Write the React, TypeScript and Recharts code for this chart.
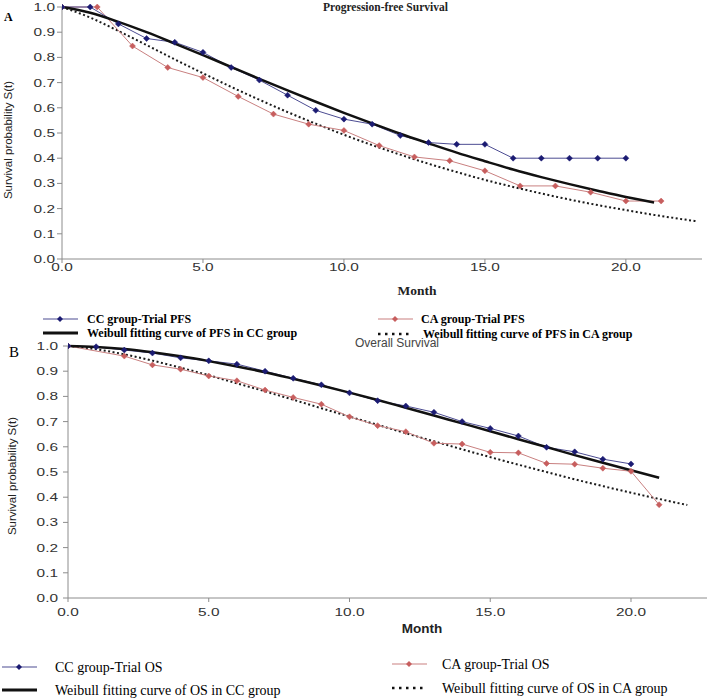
import React from "react"
import { LineChart, Line, XAxis, YAxis } from "recharts"

// ---- axes ----
const monthTicks = [0, 5, 10, 15, 20]
const survivalTicks = [0, 0.1, 0.2, 0.3, 0.4, 0.5, 0.6, 0.7, 0.8, 0.9, 1.0]

// ---- A: progression-free survival ----
const pfsCcMonths = [0, 1, 2, 3, 4, 5, 6, 7, 8, 9, 10, 11, 12, 13, 14, 15, 16, 17, 18, 19, 20]
const pfsCcTrial = [1.0, 1.0, 0.933, 0.875, 0.86, 0.82, 0.76, 0.71, 0.65, 0.59, 0.555, 0.535, 0.49, 0.462, 0.455, 0.455, 0.4, 0.4, 0.4, 0.4, 0.4]

const pfsCaMonths = [0, 1.25, 2.5, 3.75, 5, 6.25, 7.5, 8.75, 10, 11.25, 12.5, 13.75, 15, 16.25, 17.5, 18.75, 20, 21.25]
const pfsCaTrial = [1.0, 1.0, 0.845, 0.76, 0.72, 0.645, 0.575, 0.535, 0.51, 0.45, 0.405, 0.39, 0.35, 0.29, 0.29, 0.265, 0.23, 0.23]

const pfsCcFitMonths = [0, 1, 2, 3, 4, 5, 6, 7, 8, 9, 10, 11, 12, 13, 14, 15, 16, 17, 18, 19, 20, 21]
const pfsCcFit = [1.0, 0.977, 0.941, 0.9, 0.855, 0.809, 0.762, 0.715, 0.669, 0.624, 0.58, 0.538, 0.497, 0.459, 0.422, 0.388, 0.355, 0.325, 0.297, 0.271, 0.246, 0.224]

const pfsCaFitMonths = [0, 1, 2, 3, 4, 5, 6, 7, 8, 9, 10, 11, 12, 13, 14, 15, 16, 17, 18, 19, 20, 21, 22, 22.5]
const pfsCaFit = [1.0, 0.958, 0.905, 0.849, 0.792, 0.737, 0.683, 0.632, 0.583, 0.537, 0.493, 0.452, 0.414, 0.378, 0.345, 0.314, 0.286, 0.26, 0.236, 0.214, 0.194, 0.175, 0.158, 0.15]

// ---- B: overall survival ----
const osCcMonths = [0, 1, 2, 3, 4, 5, 6, 7, 8, 9, 10, 11, 12, 13, 14, 15, 16, 17, 18, 19, 20]
const osCcTrial = [1.0, 0.997, 0.984, 0.972, 0.953, 0.941, 0.928, 0.9, 0.872, 0.846, 0.814, 0.783, 0.762, 0.737, 0.7, 0.673, 0.643, 0.598, 0.58, 0.551, 0.532]

const osCaMonths = [0, 2, 3, 4, 5, 6, 7, 8, 9, 10, 11, 12, 13, 14, 15, 16, 17, 18, 19, 20, 21]
const osCaTrial = [1.0, 0.96, 0.925, 0.908, 0.881, 0.862, 0.825, 0.796, 0.769, 0.719, 0.684, 0.66, 0.614, 0.611, 0.578, 0.576, 0.534, 0.531, 0.515, 0.503, 0.37]

const osCcFitMonths = [0, 1, 2, 3, 4, 5, 6, 7, 8, 9, 10, 11, 12, 13, 14, 15, 16, 17, 18, 19, 20, 21]
const osCcFit = [1.0, 0.996, 0.988, 0.975, 0.959, 0.94, 0.919, 0.896, 0.87, 0.843, 0.815, 0.786, 0.755, 0.724, 0.693, 0.662, 0.63, 0.599, 0.567, 0.537, 0.507, 0.477]

const osCaFitMonths = [0, 1, 2, 3, 4, 5, 6, 7, 8, 9, 10, 11, 12, 13, 14, 15, 16, 17, 18, 19, 20, 21, 22]
const osCaFit = [1.0, 0.987, 0.967, 0.942, 0.914, 0.884, 0.852, 0.82, 0.787, 0.753, 0.72, 0.687, 0.654, 0.622, 0.59, 0.559, 0.529, 0.5, 0.471, 0.444, 0.418, 0.393, 0.369]

const NAVY = "#1b1b72"
const NAVY_LINE = "#4c4c92"
const ROSE = "#c75e5e"
const ROSE_LINE = "#c98080"
const AXIS = "#8c8c8c"
const SANS = "'Liberation Sans', Arial, sans-serif"
const SERIF = "'Liberation Serif', 'Times New Roman', serif"
const STRETCH = 1.4

const toPoints = (months: number[], values: number[]) =>
  months.map((m, i) => ({ month: m, s: values[i] }))

const diamond = (color: string) => (props: any) => {
  const { cx, cy, index } = props
  if (cx == null || cy == null) return <g key={`d-${index}`} />
  return (
    <path
      key={`d-${index}`}
      d={`M${cx},${cy - 3} L${cx + 3},${cy} L${cx},${cy + 3} L${cx - 3},${cy} Z`}
      fill={color}
      stroke={color}
      strokeWidth={0.5}
    />
  )
}

const YTick = (props: any) => {
  const { x, y, payload } = props
  return (
    <text
      transform={`translate(${x},${y}) scale(${STRETCH},1)`}
      textAnchor="end"
      dy="0.355em"
      fontSize={11}
      fill="#333"
      fontFamily={SANS}
    >
      {Number(payload.value).toFixed(1)}
    </text>
  )
}

const XTick = (props: any) => {
  const { x, y, payload } = props
  return (
    <text
      transform={`translate(${x},${y}) scale(${STRETCH},1)`}
      textAnchor="middle"
      dy="0.71em"
      fontSize={11}
      fill="#333"
      fontFamily={SANS}
    >
      {Number(payload.value).toFixed(1)}
    </text>
  )
}

interface PanelProps {
  top: number
  yAxisWidth: number
  right: number
  tickSize: number
  xTickMargin: number
  yTickMargin: number
  ccTrial: { month: number; s: number }[]
  caTrial: { month: number; s: number }[]
  ccFit: { month: number; s: number }[]
  caFit: { month: number; s: number }[]
  marginTop: number
  marginBottom: number
}

function SurvivalPanel(p: PanelProps) {
  return (
    <div style={{ position: "absolute", left: 0, top: p.top }}>
      <LineChart
        width={708}
        height={300}
        margin={{ top: p.marginTop, right: p.right, left: 0, bottom: p.marginBottom }}
      >
        <XAxis
          dataKey="month"
          type="number"
          domain={[0, 22.7]}
          ticks={monthTicks}
          interval={0}
          height={30}
          tickSize={p.tickSize}
          tickMargin={p.xTickMargin}
          axisLine={{ stroke: AXIS }}
          tickLine={{ stroke: AXIS }}
          tick={(t: any) => <XTick {...t} />}
          allowDataOverflow
        />
        <YAxis
          type="number"
          domain={[0, 1]}
          ticks={survivalTicks}
          interval={0}
          width={p.yAxisWidth}
          tickSize={p.tickSize + 1}
          tickMargin={p.yTickMargin}
          axisLine={{ stroke: AXIS }}
          tickLine={{ stroke: AXIS }}
          tick={(t: any) => <YTick {...t} />}
        />
        <Line
          data={p.caFit}
          dataKey="s"
          type="monotone"
          stroke="#1a1a1a"
          strokeWidth={2}
          strokeDasharray="2 2.5"
          dot={false}
          isAnimationActive={false}
        />
        <Line
          data={p.caTrial}
          dataKey="s"
          type="linear"
          stroke={ROSE_LINE}
          strokeWidth={1}
          dot={diamond(ROSE)}
          isAnimationActive={false}
        />
        <Line
          data={p.ccTrial}
          dataKey="s"
          type="linear"
          stroke={NAVY_LINE}
          strokeWidth={1}
          dot={diamond(NAVY)}
          isAnimationActive={false}
        />
        <Line
          data={p.ccFit}
          dataKey="s"
          type="monotone"
          stroke="#111"
          strokeWidth={2.5}
          dot={false}
          isAnimationActive={false}
        />
      </LineChart>
    </div>
  )
}

function LegendMark({ kind, x, y }: { kind: string; x: number; y: number }) {
  if (kind === "cc")
    return (
      <g>
        <line x1={x} x2={x + 35} y1={y} y2={y} stroke={NAVY_LINE} strokeWidth={1.2} />
        <path d={`M${x + 17},${y - 3} L${x + 20},${y} L${x + 17},${y + 3} L${x + 14},${y} Z`} fill={NAVY} />
      </g>
    )
  if (kind === "ca")
    return (
      <g>
        <line x1={x} x2={x + 35} y1={y} y2={y} stroke={ROSE_LINE} strokeWidth={1.2} />
        <path d={`M${x + 17},${y - 3} L${x + 20},${y} L${x + 17},${y + 3} L${x + 14},${y} Z`} fill={ROSE} />
      </g>
    )
  if (kind === "solid")
    return <line x1={x} x2={x + 35} y1={y} y2={y} stroke="#111" strokeWidth={3} />
  return <line x1={x} x2={x + 33} y1={y} y2={y} stroke="#111" strokeWidth={2.5} strokeDasharray="2.5 4.5" />
}

function Overlay() {
  return (
    <svg
      width={708}
      height={698}
      style={{ position: "absolute", left: 0, top: 0, pointerEvents: "none" }}
    >
      {/* panel A */}
      <text x={4} y={21} fontFamily={SERIF} fontWeight="bold" fontSize={12}>A</text>
      <text x={323} y={11} fontFamily={SERIF} fontWeight="bold" fontSize={11.5} fill="#222">
        Progression-free Survival
      </text>
      <text
        x={12}
        y={140}
        transform="rotate(-90 12 140)"
        textAnchor="middle"
        fontFamily={SANS}
        fontSize={11.5}
        fill="#222"
      >
        Survival probability S(t)
      </text>
      <text x={417} y={295} textAnchor="middle" fontFamily={SERIF} fontWeight="bold" fontSize={13.5} fill="#222">
        Month
      </text>

      <LegendMark kind="cc" x={43} y={319} />
      <text x={87} y={323} fontFamily={SERIF} fontWeight="bold" fontSize={12}>CC group-Trial PFS</text>
      <LegendMark kind="solid" x={43} y={333} />
      <text x={87} y={337} fontFamily={SERIF} fontWeight="bold" fontSize={12}>
        Weibull fitting curve of PFS in CC group
      </text>
      <LegendMark kind="ca" x={378} y={319} />
      <text x={421} y={323} fontFamily={SERIF} fontWeight="bold" fontSize={12}>CA group-Trial PFS</text>
      <LegendMark kind="dot" x={378} y={334} />
      <text x={423} y={338} fontFamily={SERIF} fontWeight="bold" fontSize={12}>
        Weibull fitting curve of PFS in CA group
      </text>

      {/* panel B */}
      <text x={9} y={357} fontFamily={SERIF} fontSize={15}>B</text>
      <text x={355} y={347} fontFamily={SANS} fontSize={12} fill="#444">Overall Survival</text>
      <text
        x={16}
        y={476}
        transform="rotate(-90 16 476)"
        textAnchor="middle"
        fontFamily={SANS}
        fontSize={11.5}
        fill="#222"
      >
        Survival probability S(t)
      </text>
      <text x={422} y={633} textAnchor="middle" fontFamily={SANS} fontWeight="bold" fontSize={13.5} fill="#222">
        Month
      </text>

      <LegendMark kind="cc" x={2} y={667} />
      <text x={55} y={672} fontFamily={SERIF} fontSize={14}>CC group-Trial OS</text>
      <LegendMark kind="solid" x={2} y={690} />
      <text x={55} y={695} fontFamily={SERIF} fontSize={14}>Weibull fitting curve of OS in CC group</text>
      <LegendMark kind="ca" x={392} y={664} />
      <text x={442} y={669} fontFamily={SERIF} fontSize={14}>CA group-Trial OS</text>
      <LegendMark kind="dot" x={392} y={688} />
      <text x={442} y={693} fontFamily={SERIF} fontSize={14}>Weibull fitting curve of OS in CA group</text>
    </svg>
  )
}

export default function App() {
  return (
    <div style={{ position: "absolute", left: 0, top: 0, width: 708, height: 698, background: "#fff" }}>
      <SurvivalPanel
        top={0}
        yAxisWidth={62}
        right={6}
        tickSize={4}
        xTickMargin={0}
        yTickMargin={2}
        marginTop={7}
        marginBottom={11}
        ccTrial={toPoints(pfsCcMonths, pfsCcTrial)}
        caTrial={toPoints(pfsCaMonths, pfsCaTrial)}
        ccFit={toPoints(pfsCcFitMonths, pfsCcFit)}
        caFit={toPoints(pfsCaFitMonths, pfsCaFit)}
      />
      <SurvivalPanel
        top={340}
        yAxisWidth={68}
        right={1}
        tickSize={4}
        xTickMargin={6}
        yTickMargin={5}
        marginTop={6}
        marginBottom={12}
        ccTrial={toPoints(osCcMonths, osCcTrial)}
        caTrial={toPoints(osCaMonths, osCaTrial)}
        ccFit={toPoints(osCcFitMonths, osCcFit)}
        caFit={toPoints(osCaFitMonths, osCaFit)}
      />
      <Overlay />
    </div>
  )
}
